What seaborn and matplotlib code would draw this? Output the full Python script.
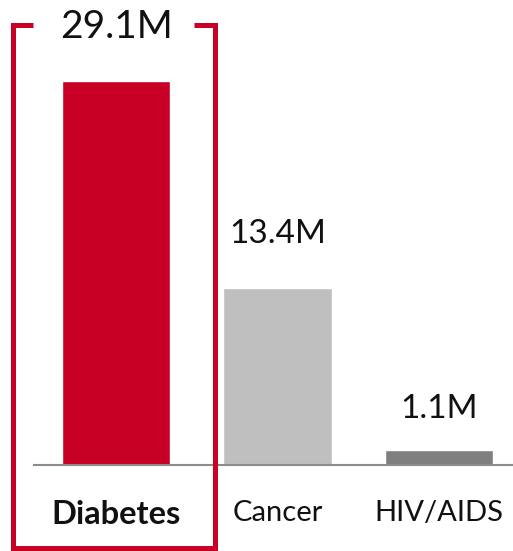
import matplotlib
matplotlib.use("Agg")
import matplotlib.pyplot as plt
import seaborn as sns
import pandas as pd
from matplotlib.lines import Line2D

categories = ["Diabetes", "Cancer", "HIV/AIDS"]
values = [29.1, 13.4, 1.1]
value_labels = ["29.1M", "13.4M", "1.1M"]
colors = ["#C80025", "#BFBFBF", "#7F7F7F"]

sns.set_theme(style="white")
plt.rcParams['font.family'] = ['Lato', 'DejaVu Sans']

W, H = 513, 551
fig = plt.figure(figsize=(W / 100, H / 100), dpi=100)
ax = fig.add_axes([34 / W, 86 / H, 1 - 34 / W, 1 - 86 / H])

df = pd.DataFrame({"cat": categories, "val": values})
sns.barplot(data=df, x="cat", y="val", hue="cat", palette=colors,
            width=0.67, legend=False, ax=ax, saturation=1)

ax.set_xlim(-0.508, 2.458)
ax.set_ylim(0, 35.2)
for s in ["top", "right", "left"]:
    ax.spines[s].set_visible(False)
ax.spines["bottom"].set_color("#8c8c8c")
ax.spines["bottom"].set_linewidth(1.5)
ax.set_yticks([])
ax.set_xlabel("")
ax.set_ylabel("")
ax.tick_params(axis="x", length=0, pad=25, labelsize=21, labelcolor="#111111")
ax.set_xticks(range(len(categories)))
ax.set_xticklabels(categories)
ax.get_xticklabels()[0].set_fontweight("bold")
ax.get_xticklabels()[0].set_fontsize(23.5)

# value labels
offsets = [54, 54, 41]
sizes = [28, 24, 24]
for i, (v, lab) in enumerate(zip(values, value_labels)):
    ax.annotate(lab, (i, v), xytext=(0, offsets[i] * 0.72), textcoords="offset points",
                ha="center", va="center", fontsize=sizes[i], fontweight="normal",
                color="#111111", annotation_clip=False)

# bracket around Diabetes
xs = [33, 12.5, 12.5, 214.5, 214.5, 194]
ys = [25, 25, 548, 548, 25, 25]
fig.add_artist(Line2D([x / W for x in xs], [1 - y / H for y in ys],
                      transform=fig.transFigure, color="#C80025", linewidth=3.6,
                      solid_joinstyle="miter", solid_capstyle="butt"))

fig.savefig("out.png", dpi=100)
